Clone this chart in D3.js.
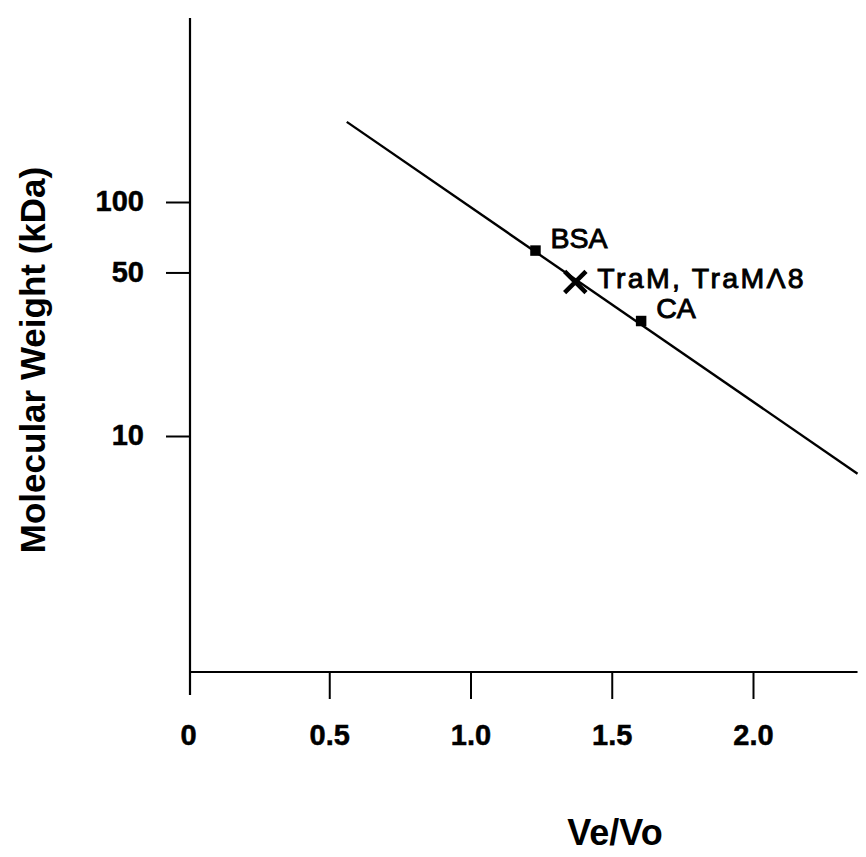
<!DOCTYPE html>
<html>
<head>
<meta charset="utf-8">
<script src="https://cdn.jsdelivr.net/npm/d3@7"></script>
<style>
  html, body { margin: 0; padding: 0; background: #fff; }
  svg { display: block; }
  text { font-family: "Liberation Sans", Arial, Helvetica, sans-serif; fill: #000; }
</style>
</head>
<body>
<svg id="chart" width="866" height="857"></svg>
<script>
// ---- data ----
const xTicks = [0, 0.5, 1.0, 1.5, 2.0];
const xTickLabels = ["0", "0.5", "1.0", "1.5", "2.0"];
const yTicks = [10, 50, 100];
const yTickLabels = ["10", "50", "100"];
const standardNames = ["BSA", "CA"];
const standardVeVo = [1.23, 1.604];
const standardMW = [62, 31];
const sampleNames = ["TraM, TraMΛ8"];
const sampleVeVo = [1.371];
const sampleMW = [45.5];
const fitVeVo = [0.562, 2.37];
const fitMW = [220, 6.9];
const xTitle = "Ve/Vo";
const yTitle = "Molecular Weight (kDa)";

// ---- scales ----
const svg = d3.select("#chart");
const x = d3.scaleLinear().domain([0, 2.37]).range([188, 188 + 2.37 * 282.5]);
const y = d3.scaleLog().domain([1, 600]).range([670, 670 - 234 * Math.log10(600)]);

// ---- axes ----
const xAxis = d3.axisBottom(x)
  .tickValues(xTicks)
  .tickFormat((d, i) => xTickLabels[i])
  .tickSize(27).tickSizeOuter(0).tickPadding(5);
const gx = svg.append("g").attr("transform", `translate(0,${y(1) + 2})`).call(xAxis);
gx.select(".domain").remove();
gx.selectAll(".tick line").attr("stroke", "#000").attr("stroke-width", 2);
gx.selectAll(".tick").filter(d => d === 0).select("line").remove();
gx.selectAll(".tick text")
  .attr("font-size", 29).attr("font-weight", "bold")
  .attr("dy", null).attr("y", 73)
  .attr("stroke", "#000").attr("stroke-width", 0.5)
  .style("font-family", "'Liberation Sans', Arial, sans-serif");

const yAxis = d3.axisLeft(y)
  .tickValues(yTicks)
  .tickFormat((d, i) => yTickLabels[i])
  .tickSize(24).tickSizeOuter(0).tickPadding(22);
const gy = svg.append("g").attr("transform", `translate(${x(0) + 2},0)`).call(yAxis);
gy.select(".domain").remove();
gy.selectAll(".tick line").attr("stroke", "#000").attr("stroke-width", 2);
gy.selectAll(".tick text")
  .attr("font-size", 29).attr("font-weight", "bold")
  .attr("dy", "0.30em")
  .attr("stroke", "#000").attr("stroke-width", 0.5)
  .style("font-family", "'Liberation Sans', Arial, sans-serif");

// axis lines
svg.append("line")
  .attr("x1", x(0) + 2).attr("x2", x(0) + 2)
  .attr("y1", y(600) - 2).attr("y2", y(1) + 25)
  .attr("stroke", "#000").attr("stroke-width", 2.2);
svg.append("line")
  .attr("x1", x(0) + 2).attr("x2", x(2.37))
  .attr("y1", y(1) + 2).attr("y2", y(1) + 2)
  .attr("stroke", "#000").attr("stroke-width", 1.8);

// ---- fit line ----
const lineGen = d3.line().x(d => x(d[0])).y(d => y(d[1]));
svg.append("path")
  .datum(fitVeVo.map((v, i) => [v, fitMW[i]]))
  .attr("d", lineGen)
  .attr("fill", "none").attr("stroke", "#000").attr("stroke-width", 2.4);

// ---- standards (squares) ----
const sq = d3.symbol().type(d3.symbolSquare).size(110);
svg.selectAll(".std").data(standardNames).join("path")
  .attr("class", "std")
  .attr("d", sq)
  .attr("transform", (d, i) => `translate(${x(standardVeVo[i])},${y(standardMW[i])})`)
  .attr("fill", "#000");
svg.selectAll(".stdLabel").data(standardNames).join("text")
  .attr("class", "stdLabel")
  .attr("x", (d, i) => x(standardVeVo[i]) + 15)
  .attr("y", (d, i) => y(standardMW[i]) - 3)
  .attr("font-size", 28.5)
  .attr("stroke", "#000").attr("stroke-width", 0.9)
  .text(d => d);

// ---- sample (X) ----
const xs = d3.symbol().type(d3.symbolX).size(300);
svg.selectAll(".smp").data(sampleNames).join("path")
  .attr("class", "smp")
  .attr("d", xs)
  .attr("transform", (d, i) => `translate(${x(sampleVeVo[i])},${y(sampleMW[i])})`)
  .attr("fill", "none").attr("stroke", "#000").attr("stroke-width", 4.5);
svg.selectAll(".smpLabel").data(sampleNames).join("text")
  .attr("class", "smpLabel")
  .attr("x", (d, i) => x(sampleVeVo[i]) + 22)
  .attr("y", (d, i) => y(sampleMW[i]) + 6)
  .attr("font-size", 28.5)
  .attr("letter-spacing", 2.3)
  .attr("stroke", "#000").attr("stroke-width", 0.9)
  .text(d => d);

// ---- titles ----
svg.append("text")
  .attr("x", 615).attr("y", 845)
  .attr("text-anchor", "middle")
  .attr("font-size", 36).attr("font-weight", "bold")
  .text(xTitle);
svg.append("text")
  .attr("transform", "translate(45,360) rotate(-90)")
  .attr("text-anchor", "middle")
  .attr("font-size", 35).attr("font-weight", "bold")
  .text(yTitle);
</script>
</body>
</html>
